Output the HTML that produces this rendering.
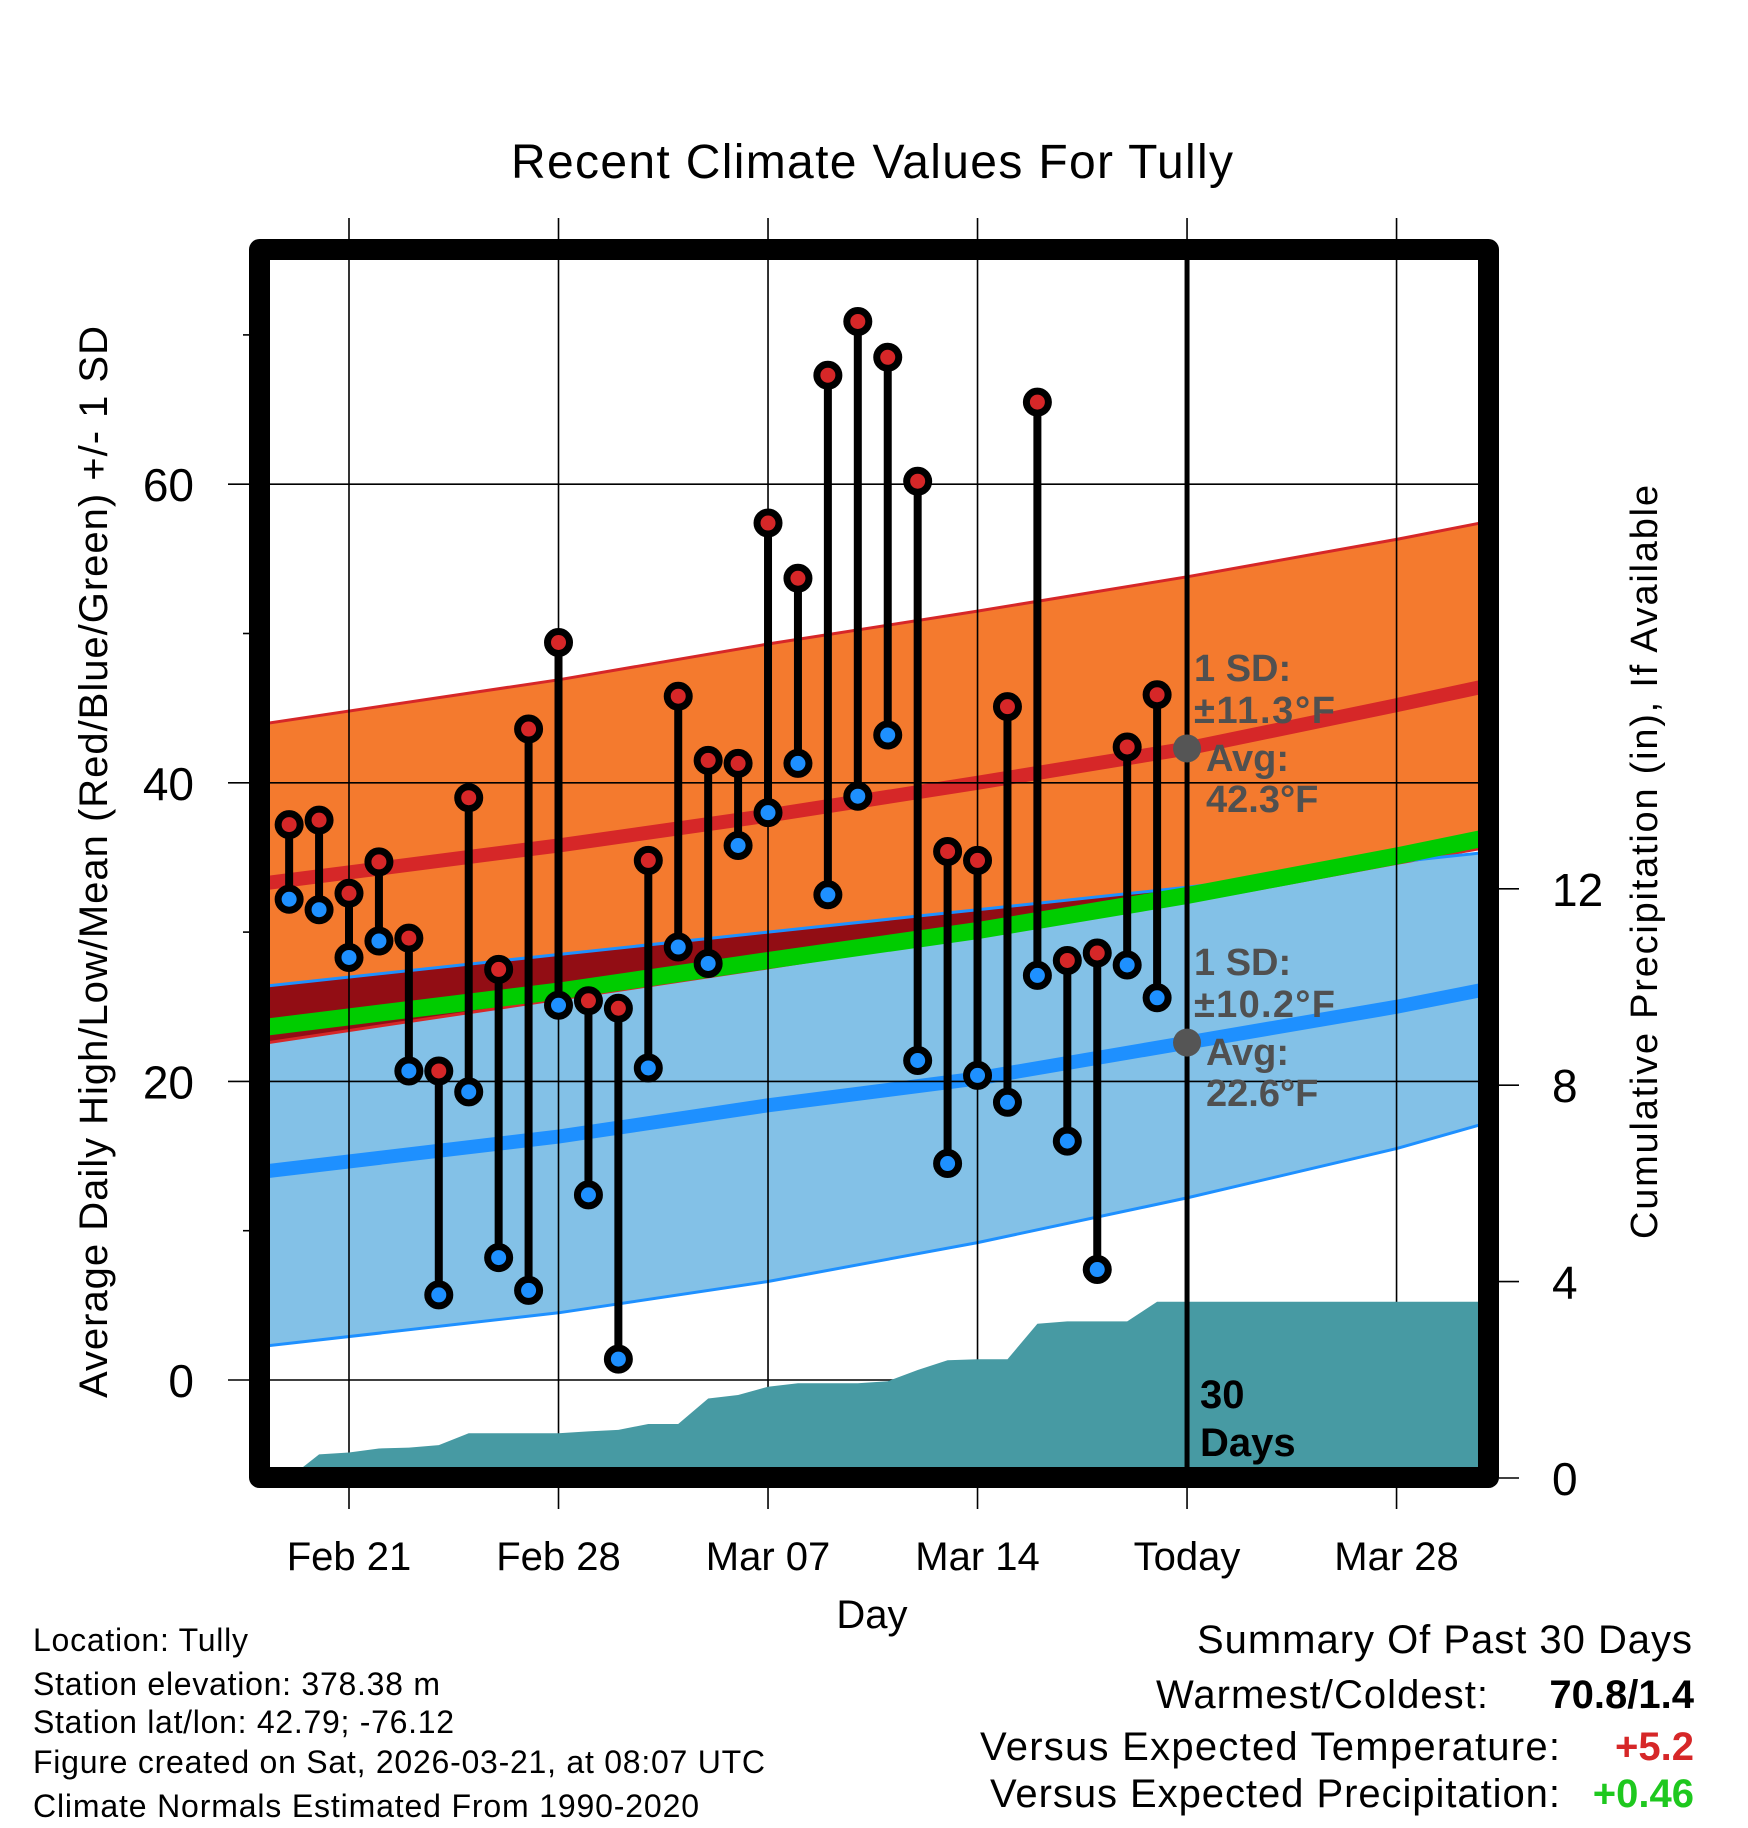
<!DOCTYPE html>
<html><head><meta charset="utf-8"><style>
html,body{margin:0;padding:0;background:#fff;}
svg{display:block;font-family:"Liberation Sans",sans-serif;}
</style></head><body>
<svg id="chart" width="1748" height="1828" viewBox="0 0 1748 1828" xmlns="http://www.w3.org/2000/svg">
<defs>
<clipPath id="plotClip"><rect x="270" y="260" width="1208" height="1208"/></clipPath>
</defs>
<g id="bands" clip-path="url(#plotClip)"></g>
<g id="grid"></g>
<g id="precip" clip-path="url(#plotClip)"></g>
<g id="marks"></g>
<g id="axes"></g>
<rect x="259.5" y="249.5" width="1229" height="1228" fill="none" stroke="#000" stroke-width="21" stroke-linejoin="round"/>
<text x="872" y="178" font-size="48" text-anchor="middle" textLength="722">Recent Climate Values For Tully</text>
<text transform="translate(107,862) rotate(-90)" font-size="40" text-anchor="middle" textLength="1072">Average Daily High/Low/Mean (Red/Blue/Green) +/- 1 SD</text>
<text transform="translate(1657,862) rotate(-90)" font-size="38" text-anchor="middle" textLength="754">Cumulative Precipitation (in), If Available</text>
<text x="872" y="1628" font-size="40" text-anchor="middle">Day</text>
<g font-size="32">
<text x="33" y="1651" textLength="215">Location: Tully</text>
<text x="33" y="1695" textLength="407">Station elevation: 378.38 m</text>
<text x="33" y="1733" textLength="421">Station lat/lon: 42.79; -76.12</text>
<text x="33" y="1773" textLength="732">Figure created on Sat, 2026-03-21, at 08:07 UTC</text>
<text x="33" y="1817" textLength="666">Climate Normals Estimated From 1990-2020</text>
</g>
<g font-size="40">
<text x="1197" y="1653" textLength="495">Summary Of Past 30 Days</text>
<text x="1156" y="1708" textLength="332">Warmest/Coldest:</text>
<text x="1694" y="1708" text-anchor="end" font-weight="bold">70.8/1.4</text>
<text x="980" y="1760" textLength="580">Versus Expected Temperature:</text>
<text x="1694" y="1760" text-anchor="end" font-weight="bold" fill="#d62728">+5.2</text>
<text x="990" y="1807" textLength="570">Versus Expected Precipitation:</text>
<text x="1694" y="1807" text-anchor="end" font-weight="bold" fill="#1ec81e">+0.46</text>
</g>
</svg>
<script>
// ---- data ----
const dayLabels = ["Feb 21","Feb 28","Mar 07","Mar 14","Today","Mar 28"];
const dayTicks = [0,7,14,21,28,35];
const obsDays = [-2,-1,0,1,2,3,4,5,6,7,8,9,10,11,12,13,14,15,16,17,18,19,20,21,22,23,24,25,26,27];
const highs = [37.2,37.5,32.6,34.7,29.6,20.7,39.0,27.5,43.6,49.4,25.4,24.9,34.8,45.8,41.5,41.3,57.4,53.7,67.3,70.9,68.5,60.2,35.4,34.8,45.1,65.5,28.1,28.6,42.4,45.9];
const lows = [32.2,31.5,28.3,29.4,20.7,5.7,19.3,8.2,6.0,25.1,12.4,1.4,20.9,29.0,27.9,35.8,38.0,41.3,32.5,39.1,43.2,21.4,14.5,20.4,18.6,27.1,16.0,7.4,27.8,25.6];
const precipCum = [0,0.48,0.52,0.6,0.62,0.67,0.91,0.91,0.91,0.91,0.95,0.98,1.1,1.1,1.62,1.69,1.86,1.93,1.93,1.93,1.97,2.2,2.4,2.42,2.42,3.14,3.19,3.19,3.19,3.59];
const normDays = [-2.7,7,14,21,28,35,37.8];
const hiUpper = [44.0,46.9,49.3,51.5,53.8,56.3,57.4];
const hiMean = [33.3,35.8,37.8,40.0,42.3,45.2,46.4];
const hiLower = [22.6,25.5,27.6,29.8,32.0,34.6,35.6];
const loUpper = [26.4,28.5,30.0,31.5,33.0,34.7,35.3];
const loMean = [14.0,16.3,18.4,20.2,22.6,25.0,26.1];
const loLower = [2.3,4.5,6.6,9.2,12.2,15.5,17.1];
const yTicks = [0,20,40,60];
const yMinor = [10,30,50,70];
const pTicks = [0,4,8,12];
const todayDay = 28;
const todayHigh = 42.3, todayLow = 22.6;

// ---- scales ----
const X = d => 349 + d*29.93;
const Y = v => 1380 - v*14.93;
const P = p => 1478 - p*49.1;
const NS = "http://www.w3.org/2000/svg";
function mk(tag, attrs, parent){const e=document.createElementNS(NS,tag);for(const k in attrs)e.setAttribute(k,attrs[k]);parent.appendChild(e);return e;}
const pts = (ds, vs) => ds.map((d,i)=>X(d).toFixed(1)+","+Y(vs[i]).toFixed(1));

// ---- bands ----
const bands = document.getElementById('bands');
const orangePts = pts(normDays,hiUpper).concat(pts(normDays,hiLower).reverse()).join(" ");
const bluePts = pts(normDays,loUpper).concat(pts(normDays,loLower).reverse()).join(" ");
const ob = mk('polygon',{points:orangePts,fill:'#f47a2e'},bands);


const bb = mk('polygon',{points:bluePts,fill:'#83c1e7'},bands);


const defs = document.querySelector('defs');
const cp = mk('clipPath',{id:'blueClip'},defs);
mk('polygon',{points:bluePts},cp);
const ov = mk('polygon',{points:orangePts,fill:'#920d14','clip-path':'url(#blueClip)'},bands);


function line(vals,color,w,name){const l=mk('polyline',{points:pts(normDays,vals).join(" "),fill:'none',stroke:color,'stroke-width':w},bands);

}
line(hiUpper,'#d62728',3,'high-upper-line');
line(hiLower,'#d62728',3,'high-lower-line');
line(loUpper,'#1e90ff',3,'low-upper-line');
line(loLower,'#1e90ff',3,'low-lower-line');
line(hiMean,'#d62728',14,'high-mean-line');
line(loMean,'#1e90ff',14,'low-mean-line');
line(hiMean.map((h,i)=>(h+loMean[i])/2),'#00cc00',17,'mean-line');

// ---- grid ----
const grid = document.getElementById('grid');
dayTicks.forEach((d,i)=>{
  const g = mk('line',{x1:X(d),x2:X(d),y1:218,y2:1509,stroke:'#000','stroke-width':1.6},grid);
  
  
});
yTicks.forEach((v,i)=>{
  const g = mk('line',{x1:228,x2:1478,y1:Y(v),y2:Y(v),stroke:'#000','stroke-width':1.6},grid);
  
  
});
yMinor.forEach(v=>{
  const g = mk('line',{x1:243,x2:252,y1:Y(v),y2:Y(v),stroke:'#000','stroke-width':1.6},grid);
  
  
});

// ---- precip ----
const precip = document.getElementById('precip');
let pp = [X(obsDays[0]).toFixed(1)+","+P(0)];
obsDays.forEach((d,i)=>pp.push(X(d).toFixed(1)+","+P(precipCum[i]).toFixed(1)));
pp.push("1480,"+P(precipCum[precipCum.length-1]).toFixed(1));
pp.push("1480,"+P(0));
const pa = mk('polygon',{points:pp.join(" "),fill:'#479aa3'},precip);



// ---- today line & annotations ----
const marks = document.getElementById('marks');
const tl = mk('line',{x1:X(todayDay),x2:X(todayDay),y1:260,y2:1468,stroke:'#000','stroke-width':5},marks);



// ---- stems and points ----
obsDays.forEach((d,i)=>{
  const s = mk('line',{x1:X(d),x2:X(d),y1:Y(highs[i]),y2:Y(lows[i]),stroke:'#000','stroke-width':8},marks);
  
  
});
obsDays.forEach((d,i)=>{
  const h = mk('circle',{cx:X(d),cy:Y(highs[i]),r:11,fill:'#d62728',stroke:'#000','stroke-width':7},marks);
  
  
  const l = mk('circle',{cx:X(d),cy:Y(lows[i]),r:11,fill:'#1e90ff',stroke:'#000','stroke-width':7},marks);
  
  
});
const gd1 = mk('circle',{cx:X(todayDay),cy:Y(todayHigh),r:14,fill:'#555'},marks);


const gd2 = mk('circle',{cx:X(todayDay),cy:Y(todayLow),r:14,fill:'#555'},marks);


function txt(x,y,s,attrs,name,parent){const t=mk('text',Object.assign({x:x,y:y},attrs),parent||marks);t.textContent=s;

return t;}
const ann = {'font-size':38,'font-weight':'bold',fill:'#505050'};
txt(1194,681,"1 SD:",ann,'high-sd-label');
txt(1194,723,"±11.3°F",Object.assign({textLength:141},ann),'high-sd-value');
txt(1206,771,"Avg:",ann,'high-avg-label');
txt(1206,812,"42.3°F",ann,'high-avg-value');
txt(1194,975,"1 SD:",ann,'low-sd-label');
txt(1194,1017,"±10.2°F",Object.assign({textLength:141},ann),'low-sd-value');
txt(1206,1065,"Avg:",ann,'low-avg-label');
txt(1206,1106,"22.6°F",ann,'low-avg-value');
txt(1200,1408,"30",{'font-size':40,'font-weight':'bold'},'period-days-number');
txt(1200,1456,"Days",{'font-size':40,'font-weight':'bold'},'period-days-label');

// ---- axes labels ----
const axes = document.getElementById('axes');
dayTicks.forEach((d,i)=>txt(X(d),1570,dayLabels[i],{'font-size':40,'text-anchor':'middle'},'x-tick-label',axes));
yTicks.forEach(v=>txt(194,Y(v)+17,String(v),{'font-size':46,'text-anchor':'end'},'y-tick-label',axes));
pTicks.forEach(p=>{
  const t = mk('line',{x1:1499,x2:1519,y1:P(p),y2:P(p),stroke:'#000','stroke-width':1.6},axes);
  
  
  txt(1552,P(p)+17,String(p),{'font-size':46},'y2-tick-label',axes);
});
</script>
</body></html>
